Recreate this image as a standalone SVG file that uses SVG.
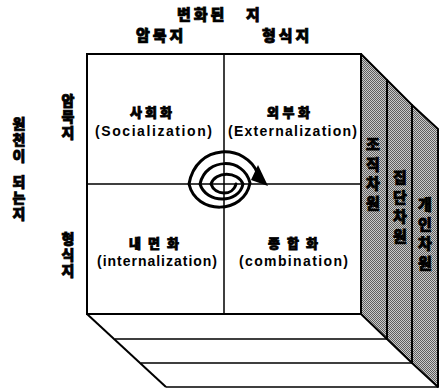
<svg xmlns="http://www.w3.org/2000/svg" width="442" height="389" viewBox="0 0 442 389">
<style>
.ko{font-family:"Noto Sans CJK KR","Noto Sans",sans-serif;font-weight:900;fill:#000;stroke:#000;stroke-width:0.8}
.vt{writing-mode:vertical-rl;text-orientation:upright}
.en{font-family:"Liberation Sans",Arial,sans-serif;font-weight:bold;font-size:14px;fill:#000}
.edge{fill:none;stroke:#000;stroke-width:2}
.thin{fill:none;stroke:#000;stroke-width:1.5}
.panel{fill:url(#dither);stroke:#000;stroke-width:2;stroke-linejoin:round}
.spiral{fill:none;stroke:#000;stroke-width:3;stroke-linecap:round}
</style>
<defs>
<pattern id="dither" width="2" height="2" patternUnits="userSpaceOnUse">
<rect width="2" height="2" fill="#cacaca"/>
<rect width="1" height="1" fill="#5e5e5e"/>
<rect x="1" y="1" width="1" height="1" fill="#5e5e5e"/>
</pattern>
</defs>
<rect width="442" height="389" fill="#fff"/>

<g id="bottom-face">
<polygon points="87,314 361,314 438,387 166,387" fill="#fff"/>
<path class="thin" d="M115 339 H387 M141 363 H412 M166 387 H438"/>
<path class="edge" d="M87 314 L166 387"/>
</g>

<g id="panel-org">
<polygon class="panel" points="361,54 387,80 387,339 361,314"/>
<text class="ko vt" font-size="15" letter-spacing="4.5" x="373" y="137">조직차원</text>
</g>
<g id="panel-group">
<polygon class="panel" points="387,80 412,105 412,363 387,339"/>
<text class="ko vt" font-size="15" letter-spacing="4.5" x="400" y="170">집단차원</text>
</g>
<g id="panel-individual">
<polygon class="panel" points="412,105 438,129 438,387 412,363"/>
<text class="ko vt" font-size="15" letter-spacing="4.5" x="425" y="197">개인차원</text>
</g>

<g id="front-square">
<rect class="edge" x="87" y="54" width="274" height="260" fill="#fff"/>
<path class="thin" d="M224 54 V314 M87 184 H361"/>
</g>

<g id="q-socialization">
<text class="ko" font-size="13" x="151" y="117" text-anchor="middle" textLength="42" lengthAdjust="spacing">사회화</text>
<text class="en" x="153.5" y="136" text-anchor="middle" textLength="117" lengthAdjust="spacing">(Socialization)</text>
</g>
<g id="q-externalization">
<text class="ko" font-size="13" x="288.5" y="117" text-anchor="middle" textLength="43" lengthAdjust="spacing">외부화</text>
<text class="en" x="292.5" y="136" text-anchor="middle" textLength="129" lengthAdjust="spacing">(Externalization)</text>
</g>
<g id="q-internalization">
<text class="ko" font-size="13" x="154" y="248" text-anchor="middle" textLength="50" lengthAdjust="spacing">내면화</text>
<text class="en" x="157" y="266" text-anchor="middle" textLength="120" lengthAdjust="spacing">(internalization)</text>
</g>
<g id="q-combination">
<text class="ko" font-size="13" x="293" y="248" text-anchor="middle" textLength="50" lengthAdjust="spacing">종합화</text>
<text class="en" x="293.5" y="266" text-anchor="middle" textLength="109" lengthAdjust="spacing">(combination)</text>
</g>

<g id="connectors">
<path class="spiral" d="M236 184 C233 196 215 196 211 184 C215 171 238 171 243 184 C239 204 206 204 200 184 C206 157 244 157 250 183 C244 215 196 215 189 184 C196 143 246 143 258 174"/>
<polygon points="258,165 268,186 251,180" fill="#000"/>
</g>

<g id="axis-top">
<text class="ko" font-size="15"><tspan x="177" y="20" letter-spacing="3">변화된</tspan><tspan x="246" y="20">지</tspan></text>
<text class="ko" font-size="15" y="41" letter-spacing="3"><tspan x="136">암묵지</tspan><tspan x="262">형식지</tspan></text>
</g>
<g id="axis-left">
<text class="ko vt" font-size="14" letter-spacing="2" x="19"><tspan y="117">원천이 </tspan><tspan y="175">되는지</tspan></text>
<text class="ko vt" font-size="14" letter-spacing="2" x="68" y="94">암묵지</text>
<text class="ko vt" font-size="14" letter-spacing="2" x="68" y="232">형식지</text>
</g>
</svg>
